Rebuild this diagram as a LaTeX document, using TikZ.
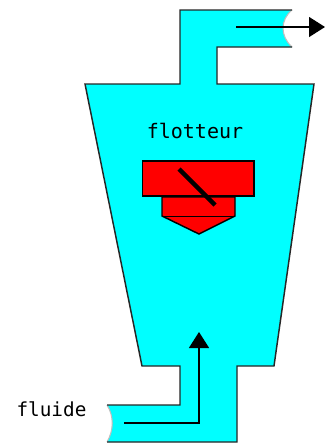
\documentclass[tikz,border=0pt]{standalone}
\usepackage{fontspec}
\setmainfont{DejaVu Sans Mono}
\usepackage{tikz}
\usetikzlibrary{arrows.meta}
\definecolor{fluidcyan}{RGB}{0,255,255}
\definecolor{floatred}{RGB}{255,0,0}
\tikzset{
  wall/.style={draw=black!85, line width=1.1pt},
  tear/.style={draw=black!25, line width=0.8pt},
  flow/.style={-{Triangle[length=12pt,width=15pt]}, black, line width=1pt},
  floatpart/.style={draw=black, fill=floatred, line width=1.1pt},
  caption/.style={inner sep=0pt},
}
\begin{document}
\begin{tikzpicture}[x=0.75pt, y=-0.75pt, >=stealth]
  \useasboundingbox (0,0) rectangle (325,444);
  % fluid
  \fill[fluidcyan] (180,10) -- (292,10) .. controls (280,20) and (280,36) .. (292,47) -- (217,47) -- (217,84)
    -- (314,84) -- (274,366) -- (237,366) -- (237,442) -- (107,442) .. controls (114,430) and (114,416) .. (107,405)
    -- (180,405) -- (180,366) -- (142,366) -- (85,84) -- (180,84) -- cycle;
  \draw[tear] (292,10) .. controls (280,20) and (280,36) .. (292,47);
  \draw[tear] (107,442) .. controls (114,430) and (114,416) .. (107,405);
  % walls
  \draw[wall] (292,10) -- (180,10) -- (180,84) -- (85,84) -- (142,366) -- (180,366) -- (180,405) -- (107,405);
  \draw[wall] (292,47) -- (217,47) -- (217,84) -- (314,84) -- (274,366) -- (237,366) -- (237,442) -- (107,442);
  % float
  \draw[floatpart] (162,197) -- (235,197) -- (235,216) -- (199,234) -- (162,216) -- cycle;
  \draw[floatpart, line width=0.6pt] (162,216) -- (235,216);
  \draw[floatpart] (142.5,161) rectangle (254,196);
  \coordinate (needleA) at (179,169);
  \coordinate (needleB) at (215,205);
  \draw[line width=3.2pt] (needleA) -- (needleB);
  % flow arrows
  \coordinate (outA) at (236,27);
  \coordinate (outB) at (325,27);
  \draw[flow] (outA) -- (outB);
  \coordinate (inA) at (124,423);
  \coordinate (inB) at (199,332);
  \draw[flow] (inA) -| (inB);
  \node[caption, font=\fontsize{15pt}{17pt}\selectfont] (flotteur) at (195,131) {flotteur};
  \node[caption, font=\fontsize{14.5pt}{17pt}\selectfont] (fluide) at (51.5,409) {fluide};
\end{tikzpicture}
\end{document}
